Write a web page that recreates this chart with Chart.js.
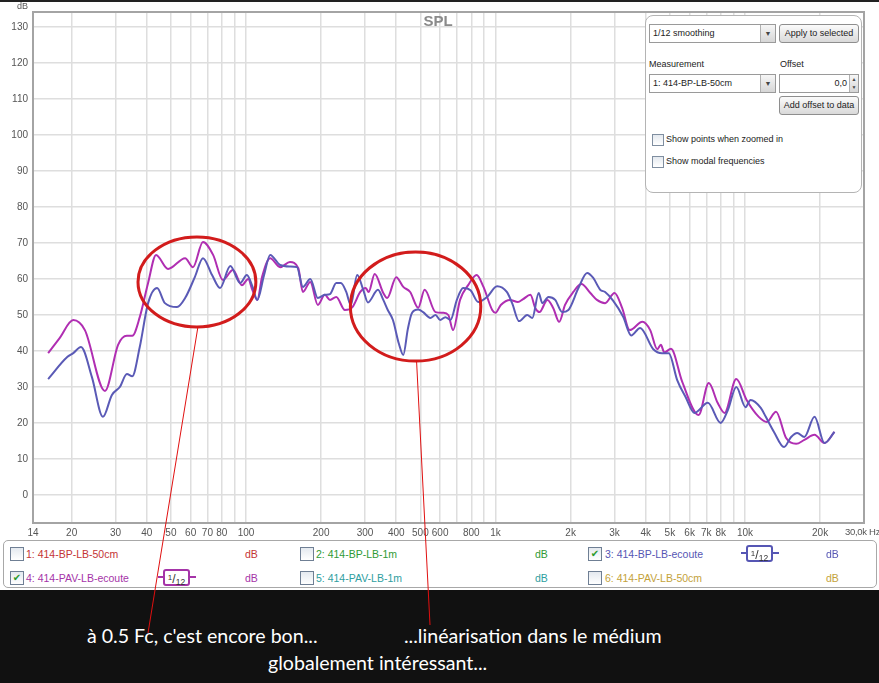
<!DOCTYPE html>
<html lang="fr">
<head>
<meta charset="utf-8">
<title>SPL</title>
<script src="https://cdn.jsdelivr.net/npm/chart.js@4.4.1/dist/chart.umd.min.js"></script>
<style>
  html, body { margin: 0; padding: 0; }
  body { width: 879px; height: 683px; position: relative; overflow: hidden; background: #fff;
         font-family: 'Liberation Sans', Arial, sans-serif; }
  .abs { position: absolute; white-space: nowrap; }
  #topline { left: 0; top: 0; width: 879px; height: 2px; background: #222; }
  #chartBox { position: absolute; left: 0; top: 0; width: 879px; height: 540px; }
  #dbUnit { left: 17px; top: 1px; font-size: 9px; color: #555; }
  #splTitle { left: 400px; width: 76px; text-align: center; top: 12px; font-size: 15px; font-weight: bold; color: #8a8a8a; }
  #hzLabel { left: 845px; top: 526px; font-size: 9.5px; letter-spacing: -0.3px; color: #555; }

  /* panneau de réglages */
  #panel { left: 645px; top: 15px; width: 215px; height: 176px; border: 1px solid #b4b4b4; border-radius: 8px;
           background: #fff; font-size: 9px; color: #222; }
  .combo { position: absolute; height: 17px; border: 1px solid #9a9a9a; background: #fff; line-height: 17px; }
  .combo span { padding-left: 3px; }
  .combo .arrow { position: absolute; right: 0; top: 0; width: 14px; height: 17px; border-left: 1px solid #b0b0b0;
                  background: linear-gradient(#f6f6f6, #d6d6d6); font-style: normal; font-size: 7px; text-align: center; color: #444; }
  .btn { position: absolute; height: 17px; width: 78px; border: 1px solid #8e8e8e; border-radius: 3px;
         background: linear-gradient(#fbfbfb, #d9d9d9); text-align: center; line-height: 17px; }
  .field { position: absolute; height: 17px; border: 1px solid #9a9a9a; background: #fff; line-height: 17px; text-align: right; }
  .spin { position: absolute; right: 0; top: 0; width: 8px; height: 17px; border-left: 1px solid #b0b0b0;
          background: linear-gradient(#f6f6f6, #d6d6d6); font-size: 5px; line-height: 8px; text-align: center; color: #444; }
  .cb { position: absolute; width: 10px; height: 10px; border: 1px solid #7f8ea0; background: linear-gradient(#e4e9ef, #fff); }
  .lbl { position: absolute; white-space: nowrap; }

  /* légende des mesures */
  #legend { left: 3px; top: 540px; width: 872px; height: 46px; border: 1px solid #a8a8a8; border-radius: 5px;
            background: #fff; font-size: 10.5px; }
  .lcb { position: absolute; width: 12px; height: 12px; border: 1px solid #6f7f94; background: linear-gradient(#e4e9ef, #fff);
         font-family: 'DejaVu Sans', sans-serif; font-size: 10px; line-height: 12px; text-align: center; color: #2a9a2a; }
  .badge { position: absolute; width: 38px; height: 17px; }
  .badge .bar { position: absolute; left: 0; top: 7px; width: 38px; height: 2px; }
  .badge .box { position: absolute; left: 5px; top: 0; width: 23px; height: 13px; border: 2px solid; border-radius: 3px;
                background: #fff; font-size: 12px; line-height: 13px; text-align: center; }
  .badge sup { font-size: 8px; vertical-align: 3px; }
  .badge sub { font-size: 8.5px; vertical-align: -2px; }

  /* commentaires */
  #caption { left: 0; top: 590px; width: 879px; height: 93px; background: #111; }
  .note { position: absolute; white-space: nowrap; color: #fff; font-family: Lato, 'Open Sans', sans-serif;
          font-size: 19.6px; line-height: 20px; }
  #overlay { position: absolute; left: 0; top: 0; pointer-events: none; }
</style>
</head>
<body>
<div id="chartBox"><canvas id="splChart"></canvas></div>
<div class="abs" id="topline"></div>
<div class="abs" id="dbUnit">dB</div>
<div class="abs" id="splTitle">SPL</div>
<div class="abs" id="hzLabel">30,0k Hz</div>

<div class="abs" id="panel">
  <div class="combo" style="left:3px;top:8px;width:125px;"><span>1/12 smoothing</span><i class="arrow">▼</i></div>
  <div class="btn" style="left:133px;top:8px;">Apply to selected</div>
  <div class="lbl" style="left:3px;top:43px;">Measurement</div>
  <div class="lbl" style="left:134px;top:43px;">Offset</div>
  <div class="combo" style="left:3px;top:58px;width:125px;"><span>1: 414-BP-LB-50cm</span><i class="arrow">▼</i></div>
  <div class="field" style="left:133px;top:58px;width:78px;"><span style="padding-right:11px;">0,0</span><div class="spin">▲<br>▼</div></div>
  <div class="btn" style="left:133px;top:80px;">Add offset to data</div>
  <div class="cb" style="left:6px;top:118px;"></div>
  <div class="lbl" style="left:20px;top:118px;">Show points when zoomed in</div>
  <div class="cb" style="left:6px;top:140px;"></div>
  <div class="lbl" style="left:20px;top:140px;">Show modal frequencies</div>
</div>

<div class="abs" id="legend">
  <div class="lcb" style="left:6px;top:6px;"></div>
  <div class="lbl" style="left:22px;top:7px;color:#c43434;">1: 414-BP-LB-50cm</div>
  <div class="lbl" style="left:241px;top:7px;color:#c43434;">dB</div>
  <div class="lcb" style="left:296px;top:6px;"></div>
  <div class="lbl" style="left:312px;top:7px;color:#2f9a35;">2: 414-BP-LB-1m</div>
  <div class="lbl" style="left:531px;top:7px;color:#2f9a35;">dB</div>
  <div class="lcb" style="left:584px;top:6px;">✔</div>
  <div class="lbl" style="left:601px;top:7px;color:#5656b4;">3: 414-BP-LB-ecoute</div>
  <div class="badge" style="left:737px;top:4px;"><div class="bar" style="background:#5656b4"></div>
    <div class="box" style="border-color:#5656b4;color:#333"><sup>1</sup>/<sub>12</sub></div></div>
  <div class="lbl" style="left:822px;top:7px;color:#5656b4;">dB</div>

  <div class="lcb" style="left:6px;top:30px;">✔</div>
  <div class="lbl" style="left:22px;top:31px;color:#a534a8;">4: 414-PAV-LB-ecoute</div>
  <div class="badge" style="left:154px;top:28px;"><div class="bar" style="background:#a534a8"></div>
    <div class="box" style="border-color:#a534a8;color:#333"><sup>1</sup>/<sub>12</sub></div></div>
  <div class="lbl" style="left:241px;top:31px;color:#a534a8;">dB</div>
  <div class="lcb" style="left:296px;top:30px;"></div>
  <div class="lbl" style="left:312px;top:31px;color:#2e9ea0;">5: 414-PAV-LB-1m</div>
  <div class="lbl" style="left:531px;top:31px;color:#2e9ea0;">dB</div>
  <div class="lcb" style="left:584px;top:30px;"></div>
  <div class="lbl" style="left:601px;top:31px;color:#c4a23a;">6: 414-PAV-LB-50cm</div>
  <div class="lbl" style="left:822px;top:31px;color:#c4a23a;">dB</div>
</div>

<div class="abs" id="caption">
  <div class="note" style="left:87px;top:36px;">à 0.5 Fc, c'est encore bon...</div>
  <div class="note" style="left:404px;top:36px;">...linéarisation dans le médium</div>
  <div class="note" style="left:268px;top:63px;">globalement intéressant...</div>
</div>

<svg id="overlay" width="879" height="683"></svg>

<script>
// Mesure 3 : 414-BP-LB-ecoute (bleu), lissage 1/12
const bpFreq = [16.1, 19.2, 20.3, 21.8, 24.1, 26.7, 29, 31.2, 33.3, 35, 37.5, 40.5, 44, 47.3, 52.9, 57, 62.4, 67.2,
  73.1, 78.7, 86.5, 94.8, 100.8, 106, 111, 118, 125, 137, 150, 160, 169, 181, 194, 207, 217, 230, 240, 252, 263,
  279, 295, 308, 338, 355, 370, 388, 410, 427, 445, 462, 490, 513, 548, 575, 600, 630, 660, 700, 742, 794, 853,
  925, 1015, 1110, 1166, 1243, 1340, 1405, 1490, 1540, 1630, 1735, 1850, 1960, 2150, 2330, 2465, 2630, 2750,
  2960, 3250, 3500, 3800, 4290, 4650, 4950, 5350, 5780, 6270, 7100, 7990, 8540, 9230, 10050, 10530, 11570,
  12120, 13070, 14340, 15310, 16200, 17300, 19000, 20830, 22840];
const bpDb = [32.2, 38.3, 39.4, 41.1, 32.8, 21.7, 27.8, 30, 33.6, 33, 41.1, 53.3, 57.5, 53.3, 52.2, 54.7, 60.6, 65.8,
  61.1, 57.5, 63.6, 58.9, 61.1, 58, 54.2, 61, 66.7, 63.9, 63.5, 63.3, 57.8, 60, 54.7, 55.6, 55.8, 58.9, 58.9, 56.5, 52.8,
  61.1, 57, 53.5, 57, 54.2, 51.4, 48.6, 42, 38.9, 46, 50.5, 51.5, 50.8, 49.2, 50, 48.6, 49.4, 48.6, 54.2, 57.5, 56.9, 53.6,
  55, 58, 56.4, 53.3, 48.3, 50, 49.2, 56.1, 53.3, 55, 54.2, 50.8, 51.4, 57.5, 61.7, 60.3, 57, 56.4,
  54, 49.5, 44.3, 46.4, 40.5, 39.4, 39.4, 31.9, 27.2, 22.8, 25.6, 20, 23.6, 30, 24.4, 26.4, 24.2,
  21.7, 17.5, 13.3, 16.1, 17.2, 16.1, 21.7, 14.4, 17.5];

// Mesure 4 : 414-PAV-LB-ecoute (magenta), lissage 1/12
const pavFreq = [16.1, 17.9, 20.3, 22.6, 27.2, 30.7, 33.3, 35, 37.5, 40.5, 43.6, 48.7, 57, 61.3, 67.2, 73.8, 80.8,
  88.6, 96.3, 102, 106, 111, 116, 125, 137, 150, 162, 169, 181, 194, 207, 217, 230, 249, 267, 287, 302, 310, 328,
  355, 368, 400, 427, 455, 490, 520, 575, 617, 647, 676, 721, 777, 840, 895, 970, 1000, 1050, 1145, 1230, 1290,
  1380, 1445, 1500, 1615, 1705, 1800, 1900, 2050, 2210, 2400, 2550, 2750, 3000, 3220, 3450, 3880, 4170, 4450,
  4600, 4750, 5050, 5600, 6520, 7160, 7770, 8280, 9230, 10150, 11360, 12240, 13320, 14620, 16040, 17300,
  19000, 20830, 22840];
const pavDb = [39.4, 43.6, 48.6, 45.8, 28.9, 41.7, 44.2, 44.2, 49.4, 58.9, 66.7, 62.8, 65.8, 63.3, 70.3, 66.7, 59.7,
  62.5, 58.3, 60, 57, 54.2, 60.6, 65.8, 63.3, 64.7, 63, 56.4, 59.2, 52.8, 55.6, 54.2, 55, 51.4, 52.2, 56.4, 57.5, 56.4, 61.4,
  56.1, 54.7, 60.5, 57.8, 56.4, 52, 57, 50.8, 50.6, 50, 45.8, 54.2, 58.3, 61.1, 57.8, 51.4, 50.6, 52.8, 54.2, 53.6, 54.4,
  55.6, 51.9, 50.8, 54.2, 51.9, 48.1, 52.8, 56.4, 58.6, 56.1, 54.2, 53.3, 56.1, 51.9, 45.8, 48.1, 45.8, 40.5,
  41.7, 39.6, 40.6, 31.5, 22.2, 31.1, 25.6, 22.8, 32.2, 26.4, 21.7, 20.3, 23.1, 15.8, 14.2, 15.3,
  16.7, 14.4, 17.5];

const xTicks = [14, 20, 30, 40, 50, 60, 70, 80, 90, 100, 200, 300, 400, 500, 600, 700, 800, 900,
  1000, 2000, 3000, 4000, 5000, 6000, 7000, 8000, 9000, 10000, 20000, 30000];
const xTickLabels = ['14', '20', '30', '40', '50', '60', '70', '80', '', '100', '200', '300', '400', '500', '600', '', '800', '',
  '1k', '2k', '3k', '4k', '5k', '6k', '7k', '8k', '', '10k', '20k', ''];
const yTicks = [0, 10, 20, 30, 40, 50, 60, 70, 80, 90, 100, 110, 120, 130];

// Zones entourées : [fréquence min, max] et [dB haut, bas]
const zoneFreq = [[36.9, 109.5], [262, 873]];
const zoneDb = [[71.7, 46.7], [67.5, 37.2]];

const toPoints = (fs, ds) => fs.map((f, i) => ({ x: f, y: ds[i] }));

// Cadre du graphe + ellipses et traits rouges (overlay SVG)
const svgNS = 'http://www.w3.org/2000/svg';
const overlay = document.getElementById('overlay');
const calloutEnds = [[148, 633], [430, 625]];

function drawNotes(xs, ys) {
  overlay.innerHTML = '';
  zoneFreq.forEach((fr, i) => {
    const x0 = xs.getPixelForValue(fr[0]);
    const x1 = xs.getPixelForValue(fr[1]);
    const y0 = ys.getPixelForValue(zoneDb[i][0]);
    const y1 = ys.getPixelForValue(zoneDb[i][1]);
    const cx = (x0 + x1) / 2, cy = (y0 + y1) / 2;
    const el = document.createElementNS(svgNS, 'ellipse');
    el.setAttribute('cx', cx);
    el.setAttribute('cy', cy);
    el.setAttribute('rx', Math.abs(x1 - x0) / 2);
    el.setAttribute('ry', Math.abs(y1 - y0) / 2);
    el.setAttribute('fill', 'none');
    el.setAttribute('stroke', '#d21c1c');
    el.setAttribute('stroke-width', '3');
    overlay.appendChild(el);

    const ln = document.createElementNS(svgNS, 'line');
    ln.setAttribute('x1', cx + 1);
    ln.setAttribute('y1', Math.max(y0, y1));
    ln.setAttribute('x2', calloutEnds[i][0]);
    ln.setAttribute('y2', calloutEnds[i][1]);
    ln.setAttribute('stroke', '#e01010');
    ln.setAttribute('stroke-width', '1');
    overlay.appendChild(ln);
  });
}

const framePlugin = {
  id: 'framePlugin',
  afterDraw(chart) {
    const { ctx, chartArea: a } = chart;
    ctx.save();
    ctx.strokeStyle = '#a4a4a4';
    ctx.lineWidth = 2;
    ctx.strokeRect(a.left, a.top, a.right - a.left, a.bottom - a.top);
    ctx.restore();
    drawNotes(chart.scales.x, chart.scales.y);
  }
};

Chart.defaults.font.family = "'Liberation Sans', Arial, sans-serif";

new Chart(document.getElementById('splChart'), {
  type: 'line',
  data: {
    datasets: [
      {
        label: '3: 414-BP-LB-ecoute',
        data: toPoints(bpFreq, bpDb),
        borderColor: '#5a5ab6',
        borderWidth: 2,
        pointRadius: 0,
        cubicInterpolationMode: 'monotone'
      },
      {
        label: '4: 414-PAV-LB-ecoute',
        data: toPoints(pavFreq, pavDb),
        borderColor: '#b02eb2',
        borderWidth: 2,
        pointRadius: 0,
        cubicInterpolationMode: 'monotone'
      }
    ]
  },
  options: {
    responsive: true,
    maintainAspectRatio: false,
    animation: false,
    layout: { padding: { top: 12, right: 15, left: 0, bottom: 0 } },
    plugins: {
      legend: { display: false },
      tooltip: { enabled: false }
    },
    scales: {
      x: {
        type: 'logarithmic',
        min: 14,
        max: 30000,
        afterBuildTicks: s => { s.ticks = xTicks.map(v => ({ value: v })); },
        afterFit: s => { s.height = 17; },
        ticks: {
          autoSkip: false,
          maxRotation: 0,
          padding: 4,
          color: '#555',
          font: { size: 10 },
          callback: (v) => {
            const i = xTicks.indexOf(v);
            return i >= 0 ? xTickLabels[i] : '';
          }
        },
        grid: { color: '#dedede', lineWidth: 1.5, drawTicks: false },
        border: { display: false }
      },
      y: {
        min: -7.8,
        max: 134.2,
        afterBuildTicks: s => { s.ticks = yTicks.map(v => ({ value: v })); },
        afterFit: s => { s.width = 33; },
        ticks: { padding: 5, color: '#555', font: { size: 10 } },
        grid: { color: '#dedede', lineWidth: 1.5, drawTicks: false },
        border: { display: false }
      }
    }
  },
  plugins: [framePlugin]
});
</script>
</body>
</html>
